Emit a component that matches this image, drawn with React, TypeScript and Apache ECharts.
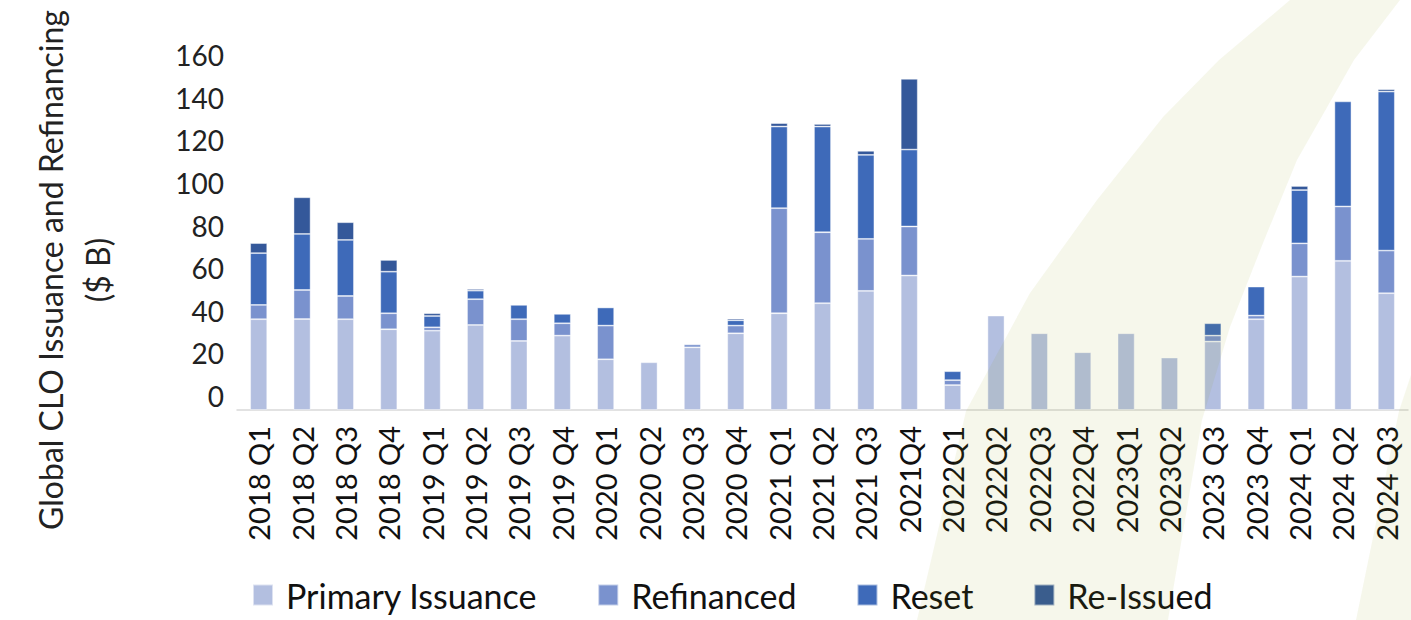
import React, { useEffect, useRef } from "react";
import * as echarts from "echarts";

const categories = [
  "2018 Q1", "2018 Q2", "2018 Q3", "2018 Q4",
  "2019 Q1", "2019 Q2", "2019 Q3", "2019 Q4",
  "2020 Q1", "2020 Q2", "2020 Q3", "2020 Q4",
  "2021 Q1", "2021 Q2", "2021 Q3", "2021Q4",
  "2022Q1", "2022Q2", "2022Q3", "2022Q4",
  "2023Q1", "2023Q2", "2023 Q3", "2023 Q4",
  "2024 Q1", "2024 Q2", "2024 Q3",
];

const primaryIssuance = [
  42.6, 42.7, 42.6, 37.9, 37.2, 39.9, 32.4, 34.9, 23.8, 22.4, 29.4, 36.0,
  45.4, 50.1, 55.9, 63.1, 11.7, 44.3, 36.0, 27.1, 36.0, 24.6, 32.1, 42.6,
  62.6, 70.0, 54.8,
];
const refinanced = [
  6.7, 13.6, 10.9, 7.5, 1.6, 12.1, 10.2, 5.8, 15.8, 0, 1.4, 3.6,
  49.3, 33.3, 24.4, 23.0, 2.3, 0, 0, 0, 0, 0, 2.8, 1.7,
  15.6, 25.5, 20.0,
];
const reset = [
  24.3, 26.3, 26.3, 19.5, 5.3, 4.0, 6.7, 4.4, 8.5, 0, 0, 2.5,
  38.3, 49.6, 39.4, 36.1, 4.2, 0, 0, 0, 0, 0, 5.8, 13.6,
  25.0, 49.3, 74.6,
];
const reIssued = [
  4.7, 17.2, 8.3, 5.5, 1.3, 0.8, 0, 0, 0, 0, 0, 0.8,
  1.6, 1.2, 1.9, 33.2, 0, 0, 0, 0, 0, 0, 0, 0,
  1.9, 0, 1.1,
];

const seriesNames = ["Primary Issuance", "Refinanced", "Reset", "Re-Issued"];
const seriesColors = ["#b3bfe0", "#7a92ce", "#3e6ab9", "#34589a"];
const yTicks = [0, 20, 40, 60, 80, 100, 120, 140, 160];

const FONT = "Lato, 'Liberation Sans', sans-serif";

export default function App() {
  const ref = useRef<HTMLDivElement>(null);

  useEffect(() => {
    if (!ref.current) return;
    const chart = echarts.init(ref.current, undefined, { renderer: "svg" });
    const allData = [primaryIssuance, refinanced, reset, reIssued];
    const overlay = "rgba(142,154,0,0.08)";

    chart.setOption({
      animation: false,
      backgroundColor: "#ffffff",
      grid: { left: 237, right: 3, top: 69, bottom: 210, containLabel: false },
      legend: {
        left: 247,
        top: 572,
        itemWidth: 20,
        itemHeight: 21,
        itemGap: 60,
        icon: "rect",
        data: seriesNames,
        textStyle: {
          fontFamily: FONT,
          fontSize: 34,
          lineHeight: 36,
          color: "#111",
          padding: [0, 0, 0, 8],
        },
      },
      xAxis: {
        type: "category",
        data: categories,
        axisLine: { show: true, lineStyle: { color: "#d9d9d9", width: 1.5 } },
        axisTick: { show: false },
        axisLabel: {
          rotate: 90,
          interval: 0,
          margin: 16,
          fontFamily: FONT,
          fontSize: 29,
          color: "#111",
        },
      },
      yAxis: {
        type: "value",
        min: yTicks[0],
        max: yTicks[yTicks.length - 1],
        interval: 20,
        splitLine: { show: false },
        axisLine: { show: false },
        axisTick: { show: false },
        axisLabel: {
          margin: 13,
          verticalAlign: "bottom",
          fontFamily: FONT,
          fontSize: 28,
          color: "#222",
        },
      },
      series: seriesNames.map((name, i) => ({
        name,
        type: "bar",
        stack: "total",
        barWidth: 17,
        itemStyle: {
          color: seriesColors[i],
          borderColor: "rgba(255,255,255,0.55)",
          borderWidth: 0.8,
        },
        data: allData[i].map((v) => (v === 0 ? null : v)),
      })),
      graphic: {
        elements: [
          {
            type: "text",
            x: 50,
            y: 270,
            rotation: Math.PI / 2,
            z: 20,
            style: {
              text: "Global CLO Issuance and Refinancing",
              fontFamily: FONT,
              fontSize: 32,
              fill: "#222",
              textAlign: "center",
              textVerticalAlign: "middle",
              align: "center",
              verticalAlign: "middle",
            },
          },
          {
            type: "text",
            x: 97,
            y: 270,
            rotation: Math.PI / 2,
            z: 20,
            style: {
              text: "($ B)",
              fontFamily: FONT,
              fontSize: 32,
              fill: "#222",
              textAlign: "center",
              textVerticalAlign: "middle",
              align: "center",
              verticalAlign: "middle",
            },
          },
          {
            type: "polygon",
            z: 30,
            silent: true,
            shape: {
              points: [
                [917, 620], [966, 411], [1030, 293], [1097, 200], [1163, 117],
                [1219, 60], [1290, 0], [1400, 0], [1354, 60], [1297, 160],
                [1263, 243], [1230, 327], [1202, 420], [1168, 620],
              ],
            },
            style: { fill: overlay },
          },
          {
            type: "polygon",
            z: 30,
            silent: true,
            shape: {
              points: [[1356, 620], [1399, 411], [1411, 375], [1411, 620]],
            },
            style: { fill: overlay },
          },
        ],
      },
    });

    return () => chart.dispose();
  }, []);

  return (
    <div
      ref={ref}
      style={{ position: "fixed", left: 0, top: 0, width: 1411, height: 620 }}
    />
  );
}
